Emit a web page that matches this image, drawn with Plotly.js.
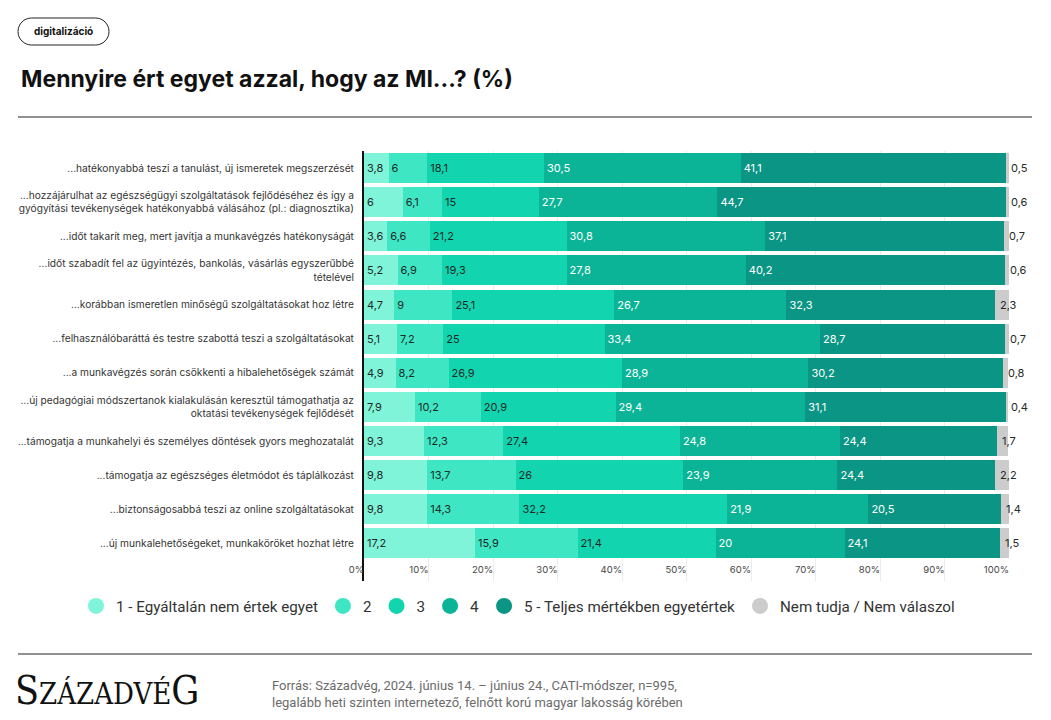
<!DOCTYPE html>
<html>
<head>
<meta charset="utf-8">
<script src="https://cdn.plot.ly/plotly-3.0.1.min.js"></script>
<style>
  html, body { margin: 0; padding: 0; background: #ffffff; }
  #chart { width: 1051px; height: 720px; }
</style>
</head>
<body>
<div id="chart"></div>
<script>
// ---------- DATA ----------
const categories = [
  "...hatékonyabbá teszi a tanulást, új ismeretek megszerzését",
  "...hozzájárulhat az egészségügyi szolgáltatások fejlődéséhez és így a<br>gyógyítási tevékenységek hatékonyabbá válásához (pl.: diagnosztika)",
  "...időt takarít meg, mert javítja a munkavégzés hatékonyságát",
  "...időt szabadít fel az ügyintézés, bankolás, vásárlás egyszerűbbé<br>tételével",
  "...korábban ismeretlen minőségű szolgáltatásokat hoz létre",
  "...felhasználóbaráttá és testre szabottá teszi a szolgáltatásokat",
  "...a munkavégzés során csökkenti a hibalehetőségek számát",
  "...új pedagógiai módszertanok kialakulásán keresztül támogathatja az<br>oktatási tevékenységek fejlődését",
  "...támogatja a munkahelyi és személyes döntések gyors meghozatalát",
  "...támogatja az egészséges életmódot és táplálkozást",
  "...biztonságosabbá teszi az online szolgáltatásokat",
  "...új munkalehetőségeket, munkaköröket hozhat létre"
];
const level1 = [3.8, 6, 3.6, 5.2, 4.7, 5.1, 4.9, 7.9, 9.3, 9.8, 9.8, 17.2];
const level2 = [6, 6.1, 6.6, 6.9, 9, 7.2, 8.2, 10.2, 12.3, 13.7, 14.3, 15.9];
const level3 = [18.1, 15, 21.2, 19.3, 25.1, 25, 26.9, 20.9, 27.4, 26, 32.2, 21.4];
const level4 = [30.5, 27.7, 30.8, 27.8, 26.7, 33.4, 28.9, 29.4, 24.8, 23.9, 21.9, 20];
const level5 = [41.1, 44.7, 37.1, 40.2, 32.3, 28.7, 30.2, 31.1, 24.4, 24.4, 20.5, 24.1];
const dontKnow = [0.5, 0.6, 0.7, 0.6, 2.3, 0.7, 0.8, 0.4, 1.7, 2.2, 1.4, 1.5];

const seriesNames = [
  "1 - Egyáltalán nem értek egyet", "2", "3", "4",
  "5 - Teljes mértékben egyetértek", "Nem tudja / Nem válaszol"
];
const tickVals = [0, 10, 20, 30, 40, 50, 60, 70, 80, 90, 100];
const tickText = ["0%", "10%", "20%", "30%", "40%", "50%", "60%", "70%", "80%", "90%", "100%"];

const titleText = "Mennyire ért egyet azzal, hogy az MI...? (%)";
const tagText = "digitalizáció";
const sourceText = "Forrás: Századvég, 2024. június 14. – június 24., CATI-módszer, n=995,<br>legalább heti szinten internetező, felnőtt korú magyar lakosság körében";

// ---------- STYLE ----------
const colors = ["#80f4d8", "#3fe6c3", "#12d4ae", "#0cb497", "#0a9584", "#cccccc"];
const textColors = ["#1f2a28", "#1f2a28", "#1f2a28", "#ffffff", "#ffffff", "#1f2a28"];
const FONT = "Inter, 'Open Sans', sans-serif";

// plot geometry in pixels
const L = 364, R = 1009, T = 151, B = 581;
const px2x = p => (p - L) / (R - L);
const py2y = p => (B - p) / (B - T);
const fmt = v => String(v).replace(".", ",");

const allSeries = [level1, level2, level3, level4, level5, dontKnow];

const traces = allSeries.map((vals, i) => ({
  type: "bar",
  orientation: "h",
  y: categories,
  x: vals,
  name: seriesNames[i],
  showlegend: false,
  marker: { color: colors[i], line: { width: 0 } },
  text: i < 5 ? vals.map(fmt) : vals.map(() => ""),
  textposition: "inside",
  insidetextanchor: "start",
  textangle: 0,
  constraintext: "none",
  cliponaxis: false,
  textfont: { family: FONT, size: 11, color: textColors[i] },
  hoverinfo: "x+y"
}));

// legend-only traces (circle symbols)
seriesNames.forEach((n, i) => {
  traces.push({
    type: "scatter", mode: "markers",
    x: [null], y: [null],
    name: n,
    showlegend: true,
    marker: { symbol: "circle", size: 16, color: colors[i] }
  });
});

// labels for the "Nem tudja" segment, placed at the start of that segment
const dkAnnotations = categories.map((c, r) => {
  const start = level1[r] + level2[r] + level3[r] + level4[r] + level5[r];
  return {
    xref: "x", yref: "y", x: start, y: c,
    xanchor: "left", yanchor: "middle", xshift: 3,
    showarrow: false, text: fmt(dontKnow[r]),
    font: { family: FONT, size: 11, color: "#1f2a28" }
  };
});

// rounded pill path for the tag
function pill(x0, y0, x1, y1) {
  const r = (y1 - y0) / 2, k = 0.5523 * r;
  const P = (x, y) => px2x(x) + "," + py2y(y);
  return "M" + P(x0 + r, y0) +
    " L" + P(x1 - r, y0) +
    " C" + P(x1 - r + k, y0) + " " + P(x1, y0 + r - k) + " " + P(x1, y0 + r) +
    " C" + P(x1, y0 + r + k) + " " + P(x1 - r + k, y1) + " " + P(x1 - r, y1) +
    " L" + P(x0 + r, y1) +
    " C" + P(x0 + r - k, y1) + " " + P(x0, y0 + r + k) + " " + P(x0, y0 + r) +
    " C" + P(x0, y0 + r - k) + " " + P(x0 + r - k, y0) + " " + P(x0 + r, y0) + " Z";
}

const layout = {
  width: 1051, height: 720,
  margin: { l: L, r: 1051 - R, t: T, b: 720 - B, pad: 0 },
  paper_bgcolor: "#ffffff",
  plot_bgcolor: "#ffffff",
  barmode: "stack",
  bargap: 0.12,
  font: { family: FONT, color: "#333333" },
  xaxis: {
    range: [0, 100],
    tickvals: tickVals,
    ticktext: tickText,
    ticklabelposition: "inside left",
    ticklabeloverflow: "allow",
    tickfont: { family: FONT, size: 9.5, color: "#444444" },
    showgrid: true,
    gridcolor: "#ebebeb",
    gridwidth: 1,
    zeroline: false,
    showline: false,
    ticks: "",
    fixedrange: true
  },
  yaxis: {
    type: "category",
    range: [12.1, -0.5],
    tickfont: { family: FONT, size: 10.2, color: "#333333" },
    showgrid: false,
    zeroline: false,
    showline: true,
    linecolor: "#111111",
    linewidth: 2,
    ticks: "",
    ticklabelstandoff: 6,
    fixedrange: true
  },
  legend: {
    orientation: "h",
    traceorder: "normal",
    x: px2x(76), xanchor: "left",
    y: py2y(606), yanchor: "middle",
    font: { family: "Roboto, 'Open Sans', sans-serif", size: 15.2, color: "#333333" },
    itemclick: false, itemdoubleclick: false,
    bgcolor: "rgba(0,0,0,0)",
    tracegroupgap: 0
  },
  shapes: [
    { type: "line", xref: "paper", yref: "paper",
      x0: px2x(18), x1: px2x(1032), y0: py2y(117), y1: py2y(117),
      line: { color: "#222222", width: 1 } },
    { type: "line", xref: "paper", yref: "paper",
      x0: px2x(18), x1: px2x(1032), y0: py2y(654), y1: py2y(654),
      line: { color: "#222222", width: 1 } },
    { type: "path", xref: "paper", yref: "paper",
      path: pill(18, 18, 109, 45),
      line: { color: "#222222", width: 1 }, fillcolor: "rgba(0,0,0,0)" }
  ],
  annotations: dkAnnotations.concat([
    { xref: "paper", yref: "paper", x: px2x(63.5), y: py2y(31.5),
      xanchor: "center", yanchor: "middle", showarrow: false,
      text: "<b>" + tagText + "</b>",
      font: { family: FONT, size: 10, color: "#111111" } },
    { xref: "paper", yref: "paper", x: px2x(19), y: py2y(79),
      xanchor: "left", yanchor: "middle", showarrow: false,
      text: "<b>" + titleText + "</b>",
      font: { family: FONT, size: 23, color: "#111111" } },
    { xref: "paper", yref: "paper", x: px2x(13), y: py2y(690),
      xanchor: "left", yanchor: "middle", showarrow: false,
      text: "<span style='font-size:39px'>S</span>ZÁZADVÉ<span style='font-size:39px'>G</span>",
      font: { family: "'DejaVu Serif Condensed', 'Liberation Serif', serif", size: 29, color: "#111111" } },
    { xref: "paper", yref: "paper", x: px2x(270), y: py2y(694),
      xanchor: "left", yanchor: "middle", align: "left", showarrow: false,
      text: sourceText,
      font: { family: "'Liberation Sans Narrow', Roboto, sans-serif", size: 13, color: "#6b6b6b" } }
  ])
};

Plotly.newPlot("chart", traces, layout, { displayModeBar: false, staticPlot: false });
</script>
</body>
</html>
